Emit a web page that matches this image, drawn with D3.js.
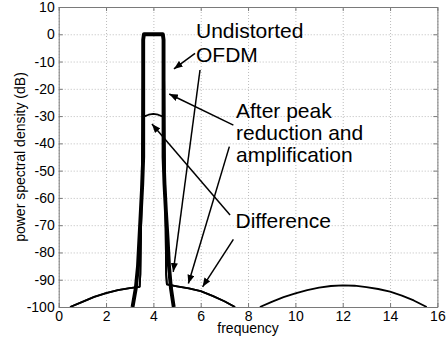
<!DOCTYPE html>
<html>
<head>
<meta charset="utf-8">
<script src="https://cdn.jsdelivr.net/npm/d3@7"></script>
<style>
  body { margin: 0; background: #fff; }
  svg { display: block; font-family: "Liberation Sans", Arial, Helvetica, sans-serif; }
  .grid line { stroke: #bcbcbc; stroke-dasharray: 1,2; }
  .grid path { display: none; }
  .axis path, .axis line { stroke: #7a7a7a; }
  .axis text { font-size: 14px; fill: #000; }
  .note { font-size: 21px; fill: #000; }
</style>
</head>
<body>
<div class="chart"></div>
<script>
const width = 447;
const height = 339;
const margin = {top: 7, right: 9.6, bottom: 32, left: 58.7};

const xTicks = [0, 2, 4, 6, 8, 10, 12, 14, 16];
const yTicks = [10, 0, -10, -20, -30, -40, -50, -60, -70, -80, -90, -100];

// shared out-of-band skirts (spectral regrowth)
const skirtLeftF = [0.48, 1.0, 1.5, 2.0, 2.5, 3.0, 3.42];
const skirtLeftDb = [-100, -98.1, -96.3, -94.9, -93.8, -93.1, -92.6];
const skirtRightF = [4.57, 5.0, 5.5, 6.0, 6.5, 7.0, 7.45];
const skirtRightDb = [-91.7, -92.4, -93.2, -94.2, -95.9, -97.9, -100];
const farLobeF = [8.5, 9, 9.5, 10, 10.5, 11, 11.5, 12, 12.5, 13, 13.5, 14, 14.5, 15, 15.55];
const farLobeDb = [-100, -98.1, -96.4, -95.0, -93.8, -92.9, -92.3, -92.1, -92.2, -92.7, -93.4, -94.4, -95.8, -97.6, -100];

// undistorted OFDM
const undistF = [3.12, 3.26, 3.35, 3.41, 3.47, 3.53, 3.57, 3.57, 3.6, 4.4, 4.43, 4.43, 4.47, 4.53, 4.6, 4.66, 4.74, 4.86];
const undistDb = [-100, -93, -85, -75, -65, -55, -45, -2, 0, 0, -2, -45, -55, -65, -75, -85, -93, -100];

// after peak reduction and amplification (main lobe)
const afterF = [3.45, 3.5, 3.55, 3.57, 3.62, 4.38, 4.43, 4.46, 4.5, 4.54];
const afterDb = [-88, -60, -20, -3, 0, 0, -3, -20, -60, -88];

// difference (main lobe)
const diffF = [3.45, 3.52, 3.57, 3.65, 3.8, 4.0, 4.2, 4.35, 4.43, 4.49, 4.54];
const diffDb = [-88, -50, -30.4, -30.0, -29.5, -29.2, -29.5, -30.0, -30.4, -50, -88];

const noteLabels = ['Undistorted', 'OFDM', 'After peak', 'reduction and', 'amplification', 'Difference'];
const noteF = [5.80, 5.80, 7.49, 7.49, 7.49, 7.47];
const noteDb = [-1.2, -10.1, -30.8, -38.8, -46.9, -71.0];

// arrows, tail and head in data units
const arrowFrom = [[5.76, -7.0], [5.97, -13.1], [7.38, -33.3], [7.21, -41.2], [7.24, -66.3], [7.38, -75.2]];
const arrowTo = [[4.87, -12.7], [4.84, -87.1], [4.67, -21.9], [5.48, -91.4], [3.94, -32.9], [6.08, -92.6]];

const zip = (f, db) => f.map((v, i) => [v, db[i]]);

const series = [
  {pts: zip(farLobeF, farLobeDb), w: 1.8},
  {pts: zip([...skirtLeftF, ...afterF, ...skirtRightF], [...skirtLeftDb, ...afterDb, ...skirtRightDb]), w: 1.8},
  {pts: zip([...skirtLeftF, ...diffF, ...skirtRightF], [...skirtLeftDb, ...diffDb, ...skirtRightDb]), w: 1.8},
  {pts: zip(undistF, undistDb), w: 3.9},
];

const x = d3.scaleLinear().domain([0, 16]).range([margin.left, width - margin.right]);
const y = d3.scaleLinear().domain([-100, 10]).range([height - margin.bottom, margin.top]);

const svg = d3.select('.chart')
  .append('svg')
    .attr('width', width)
    .attr('height', height);

const defs = svg.append('defs');
defs.append('clipPath')
  .attr('id', 'plot')
  .append('rect')
    .attr('x', x(0))
    .attr('y', y(10))
    .attr('width', x(16) - x(0))
    .attr('height', y(-100) - y(10));

defs.append('marker')
  .attr('id', 'head')
  .attr('viewBox', [0, 0, 10, 8])
  .attr('refX', 10)
  .attr('refY', 4)
  .attr('markerUnits', 'userSpaceOnUse')
  .attr('markerWidth', 9)
  .attr('markerHeight', 7)
  .attr('orient', 'auto')
  .append('path')
    .attr('d', 'M0,0L10,4L0,8Z')
    .attr('fill', '#000');

// grid
svg.append('g')
  .attr('class', 'grid')
  .attr('transform', `translate(0,${y(-100)})`)
  .call(d3.axisBottom(x).tickValues(xTicks).tickSize(-(y(-100) - y(10))).tickFormat(''));
svg.append('g')
  .attr('class', 'grid')
  .attr('transform', `translate(${x(0)},0)`)
  .call(d3.axisLeft(y).tickValues(yTicks).tickSize(-(x(16) - x(0))).tickFormat(''));

// axes, ticks pointing inward like matlab
svg.append('g')
  .attr('class', 'axis')
  .attr('transform', `translate(0,${y(-100)})`)
  .call(d3.axisBottom(x).tickValues(xTicks).tickSizeInner(-4).tickSizeOuter(0).tickPadding(4).tickFormat(d => String(d)));
svg.append('g')
  .attr('class', 'axis')
  .attr('transform', `translate(0,${y(10)})`)
  .call(d3.axisTop(x).tickValues(xTicks).tickSizeInner(-4).tickSizeOuter(0).tickFormat(''));
svg.append('g')
  .attr('class', 'axis')
  .attr('transform', `translate(${x(0)},0)`)
  .call(d3.axisLeft(y).tickValues(yTicks).tickSizeInner(-4).tickSizeOuter(0).tickPadding(4).tickFormat(d => String(d)));
svg.append('g')
  .attr('class', 'axis')
  .attr('transform', `translate(${x(16)},0)`)
  .call(d3.axisRight(y).tickValues(yTicks).tickSizeInner(-4).tickSizeOuter(0).tickFormat(''));

svg.selectAll('.axis text').attr('fill', '#000');

// curves
const line = d3.line()
  .x(d => x(d[0]))
  .y(d => y(d[1]));

svg.append('g')
  .attr('clip-path', 'url(#plot)')
  .selectAll('path')
  .data(series)
  .enter().append('path')
    .attr('d', d => line(d.pts))
    .attr('fill', 'none')
    .attr('stroke', '#000')
    .attr('stroke-width', d => d.w)
    .attr('stroke-linejoin', 'round');

// annotations
svg.append('g')
  .selectAll('line')
  .data(arrowFrom)
  .enter().append('line')
    .attr('x1', d => x(d[0]))
    .attr('y1', d => y(d[1]))
    .attr('x2', (d, i) => x(arrowTo[i][0]))
    .attr('y2', (d, i) => y(arrowTo[i][1]))
    .attr('stroke', '#000')
    .attr('stroke-width', 1.5)
    .attr('marker-end', 'url(#head)');

svg.append('g')
  .selectAll('text')
  .data(noteLabels)
  .enter().append('text')
    .attr('class', 'note')
    .attr('x', (d, i) => x(noteF[i]))
    .attr('y', (d, i) => y(noteDb[i]))
    .text(d => d);

// axis labels
svg.append('text')
  .attr('x', (x(0) + x(16)) / 2)
  .attr('y', 333)
  .attr('text-anchor', 'middle')
  .style('font-size', '14px')
  .text('frequency');

svg.append('text')
  .attr('transform', `translate(25,${(y(10) + y(-100)) / 2}) rotate(-90)`)
  .attr('text-anchor', 'middle')
  .style('font-size', '14px')
  .text('power spectral density (dB)');
</script>
</body>
</html>
